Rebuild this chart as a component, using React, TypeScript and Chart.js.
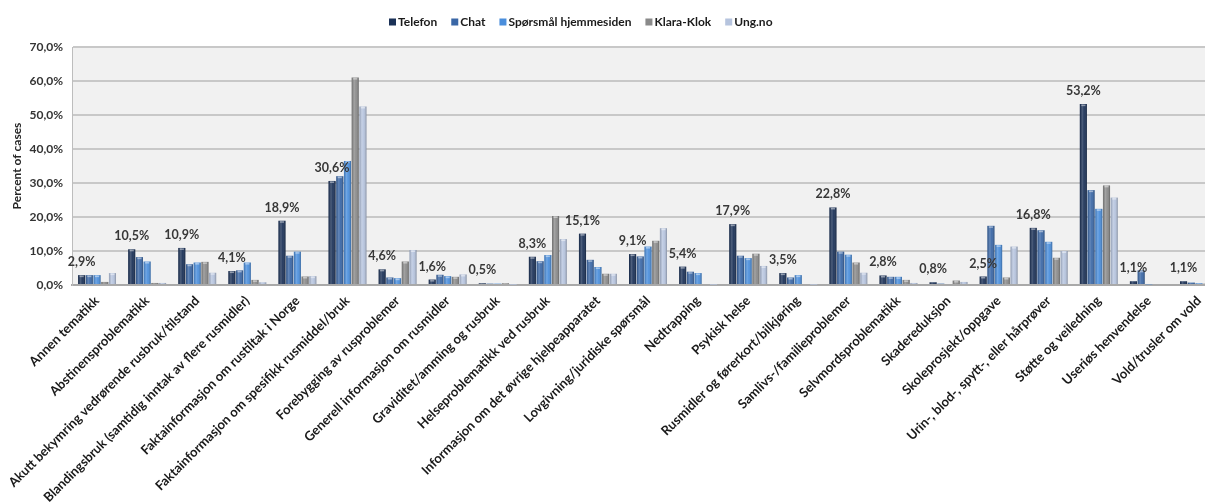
import { useEffect, useRef } from "react";
import { Chart, registerables } from "chart.js";

Chart.register(...registerables);

const FONT = 'Lato, "Open Sans", "Liberation Sans", sans-serif';

const categories = [
  "Annen tematikk",
  "Abstinensproblematikk",
  "Akutt bekymring vedrørende rusbruk/tilstand",
  "Blandingsbruk (samtidig inntak av flere rusmidler)",
  "Faktainformasjon om rustiltak i Norge",
  "Faktainformasjon om spesifikk rusmiddel/bruk",
  "Forebygging av rusproblemer",
  "Generell informasjon om rusmidler",
  "Graviditet/amming og rusbruk",
  "Helseproblematikk ved rusbruk",
  "Informasjon om det øvrige hjelpeapparatet",
  "Lovgivning/juridiske spørsmål",
  "Nedtrapping",
  "Psykisk helse",
  "Rusmidler og førerkort/bilkjøring",
  "Samlivs-/familieproblemer",
  "Selvmordsproblematikk",
  "Skadereduksjon",
  "Skoleprosjekt/oppgave",
  "Urin-, blod-, spytt-, eller hårprøver",
  "Støtte og veiledning",
  "Useriøs henvendelse",
  "Vold/trusler om vold",
];

const telefon = [2.9, 10.5, 10.9, 4.1, 18.9, 30.6, 4.6, 1.6, 0.5, 8.3, 15.1, 9.1, 5.4, 17.9, 3.5, 22.8, 2.8, 0.8, 2.5, 16.8, 53.2, 1.1, 1.1];
const chat = [2.9, 8.2, 6.1, 4.3, 8.6, 32.0, 2.2, 3.0, 0.4, 7.0, 7.4, 8.4, 3.9, 8.6, 2.2, 9.8, 2.4, 0.4, 17.4, 16.1, 27.9, 4.3, 0.7];
const sporsmal = [2.9, 6.9, 6.6, 6.6, 9.8, 36.5, 2.0, 2.6, 0.4, 8.8, 5.3, 11.3, 3.5, 7.9, 2.9, 8.9, 2.4, 0.3, 11.8, 12.7, 22.4, 0.2, 0.5];
const klaraKlok = [0.9, 0.6, 6.8, 1.5, 2.5, 61.0, 6.9, 2.4, 0.5, 20.3, 3.3, 13.0, 0.0, 9.2, 0.0, 6.6, 1.5, 1.3, 2.2, 8.0, 29.3, 0.0, 0.4];
const ungNo = [3.5, 0.6, 3.6, 0.8, 2.6, 52.5, 10.3, 3.1, 0.1, 13.5, 3.3, 16.7, 0.1, 5.6, 0.1, 3.6, 0.6, 0.9, 11.3, 10.0, 25.7, 0.3, 0.4];

const seriesNames = ["Telefon", "Chat", "Spørsmål hjemmesiden", "Klara-Klok", "Ung.no"];
const seriesValues = [telefon, chat, sporsmal, klaraKlok, ungNo];
const seriesColors = ["#1b3157", "#3a67a6", "#4a8edc", "#8a8a8a", "#b6c4de"];

const pct = (v: number) => v.toFixed(1).replace(".", ",") + "%";

// light grey fill behind the plot area
const plotBackground = {
  id: "plotBackground",
  beforeDraw(chart: any) {
    const { ctx, chartArea: a } = chart;
    ctx.save();
    ctx.fillStyle = "#f1f1f1";
    ctx.fillRect(a.left, a.top, a.right - a.left, a.bottom - a.top);
    ctx.restore();
  },
};

// cylinder-like shading on every bar
const barShading = {
  id: "barShading",
  afterDatasetsDraw(chart: any) {
    const ctx = chart.ctx;
    ctx.save();
    chart.data.datasets.forEach((_: any, di: number) => {
      const meta = chart.getDatasetMeta(di);
      meta.data.forEach((bar: any) => {
        const { x, y, base, width } = bar.getProps(["x", "y", "base", "width"], true);
        const left = x - width / 2;
        const h = base - y;
        if (h < 0.5) return;
        const g = ctx.createLinearGradient(left, 0, left + width, 0);
        g.addColorStop(0, "rgba(0,0,0,0.18)");
        g.addColorStop(0.35, "rgba(255,255,255,0.22)");
        g.addColorStop(0.6, "rgba(255,255,255,0.06)");
        g.addColorStop(1, "rgba(0,0,0,0.28)");
        ctx.fillStyle = g;
        ctx.fillRect(left, y, width, h);
        if (h > 3) {
          ctx.fillStyle = "rgba(255,255,255,0.45)";
          ctx.fillRect(left + 1.5, y + 0.5, width - 3, 1.5);
        }
      });
    });
    ctx.restore();
  },
};

// value labels above the Telefon bars
const telefonLabels = {
  id: "telefonLabels",
  afterDatasetsDraw(chart: any) {
    const ctx = chart.ctx;
    const meta = chart.getDatasetMeta(0);
    ctx.save();
    ctx.font = `bold 12.5px ${FONT}`;
    ctx.fillStyle = "#383838";
    ctx.textAlign = "center";
    ctx.textBaseline = "alphabetic";
    meta.data.forEach((bar: any, i: number) => {
      ctx.fillText(pct(telefon[i]), bar.x, bar.y - 9);
    });
    ctx.restore();
  },
};

// legend row above the plot
const topLegend = {
  id: "topLegend",
  afterDraw(chart: any) {
    const ctx = chart.ctx;
    ctx.save();
    ctx.font = `bold 12px ${FONT}`;
    ctx.textAlign = "left";
    ctx.textBaseline = "middle";
    const cy = 22;
    let x = 389;
    chart.data.datasets.forEach((ds: any) => {
      ctx.fillStyle = ds.backgroundColor;
      ctx.fillRect(x, cy - 3.5, 7, 7);
      ctx.fillStyle = "#1a1a1a";
      ctx.fillText(ds.label, x + 9, cy);
      x += 9 + ctx.measureText(ds.label).width + 14;
    });
    ctx.restore();
  },
};

export default function App() {
  const canvasRef = useRef<HTMLCanvasElement | null>(null);

  useEffect(() => {
    const canvas = canvasRef.current;
    if (!canvas) return;
    const chart = new Chart(canvas, {
      type: "bar",
      data: {
        labels: categories,
        datasets: seriesNames.map((name, i) => ({
          label: name,
          data: seriesValues[i],
          backgroundColor: seriesColors[i],
          borderWidth: 0,
        })),
      },
      options: {
        responsive: false,
        animation: false,
        devicePixelRatio: 1,
        layout: { padding: { top: 47, left: 0, right: 0, bottom: 0 } },
        datasets: { bar: { categoryPercentage: 0.77, barPercentage: 0.92 } },
        plugins: {
          legend: { display: false },
          tooltip: { enabled: false },
        },
        scales: {
          x: {
            grid: { display: false, drawTicks: false },
            border: { display: true, color: "#a9a9a9", width: 2 },
            ticks: {
              autoSkip: false,
              maxRotation: 45,
              minRotation: 45,
              padding: 8,
              color: "#1a1a1a",
              font: { family: FONT, size: 13, weight: "bold" },
            },
            afterFit: (scale: any) => {
              scale.height = 218;
            },
          },
          y: {
            min: 0,
            max: 70,
            ticks: {
              stepSize: 10,
              padding: 9,
              color: "#333333",
              font: { family: FONT, size: 12, weight: "bold" },
              callback: (v: any) => pct(Number(v)),
            },
            grid: { color: "#c8c8c8", lineWidth: 2, drawTicks: false },
            border: { display: true, color: "#bdbdbd", width: 1 },
            title: {
              display: true,
              text: "Percent of cases",
              color: "#262626",
              font: { family: FONT, size: 12, weight: "bold" },
              padding: { top: 10, bottom: 0 },
            },
            afterFit: (scale: any) => {
              scale.width = 72;
            },
          },
        },
      } as any,
      plugins: [plotBackground, barShading, telefonLabels, topLegend],
    });
    return () => chart.destroy();
  }, []);

  return (
    <div
      style={{
        position: "fixed",
        left: 0,
        top: 0,
        width: 1205,
        height: 503,
        overflow: "hidden",
        background: "#ffffff",
      }}
    >
      <canvas ref={canvasRef} width={1224} height={503} style={{ display: "block", width: 1224, height: 503 }} />
    </div>
  );
}
